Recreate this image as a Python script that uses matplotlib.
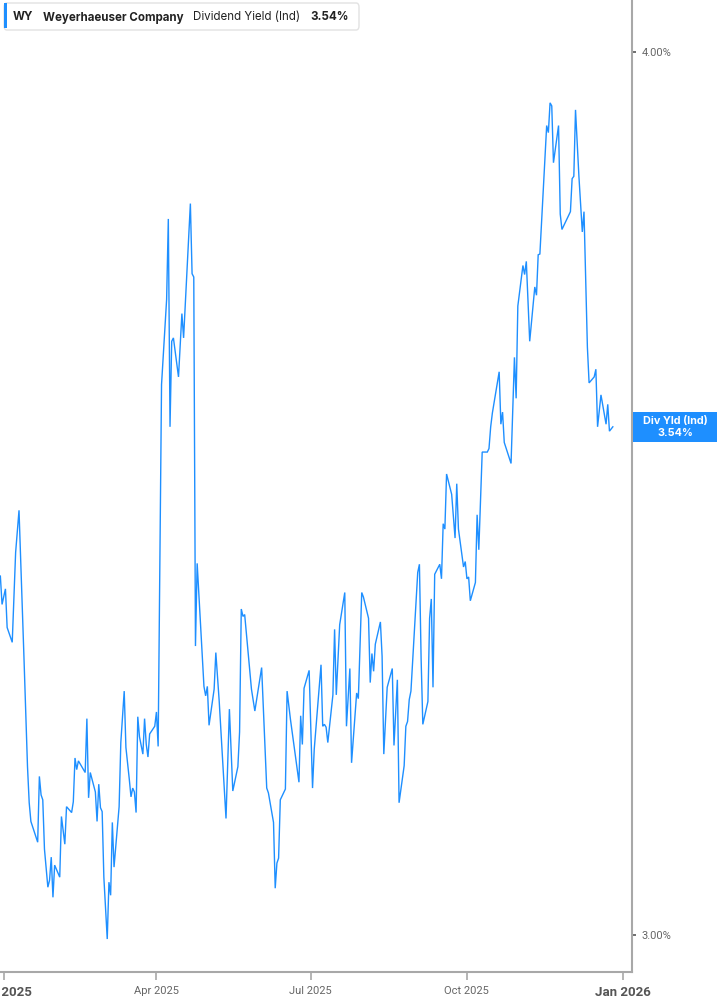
import matplotlib
matplotlib.use('Agg')
import matplotlib.pyplot as plt
import matplotlib.dates as mdates
from matplotlib.patches import FancyBboxPatch, Rectangle
from matplotlib.ticker import FixedLocator, NullLocator, FuncFormatter
from matplotlib.transforms import IdentityTransform
import pandas as pd

# WY dividend yield (indicated), %, one list per quarter
q1_dates = ['2024-12-30', '2024-12-31', '2025-01-02', '2025-01-03', '2025-01-06', '2025-01-08', '2025-01-10',
            '2025-01-13', '2025-01-15', '2025-01-16', '2025-01-17', '2025-01-21', '2025-01-22', '2025-01-23',
            '2025-01-24', '2025-01-25', '2025-01-27', '2025-01-28', '2025-01-29', '2025-01-30', '2025-01-31',
            '2025-02-03', '2025-02-04', '2025-02-06', '2025-02-07', '2025-02-10', '2025-02-11', '2025-02-12',
            '2025-02-13', '2025-02-14', '2025-02-18', '2025-02-19', '2025-02-20', '2025-02-21', '2025-02-24',
            '2025-02-25', '2025-02-26', '2025-02-27', '2025-02-28', '2025-03-01', '2025-03-03', '2025-03-04',
            '2025-03-05', '2025-03-06', '2025-03-07', '2025-03-10', '2025-03-11', '2025-03-13', '2025-03-14',
            '2025-03-16', '2025-03-17', '2025-03-18', '2025-03-19', '2025-03-20', '2025-03-21', '2025-03-22',
            '2025-03-24', '2025-03-25', '2025-03-26', '2025-03-27', '2025-03-28', '2025-03-31']
q1_vals = [3.372, 3.341, 3.358, 3.316, 3.300, 3.398, 3.445, 3.279, 3.169, 3.132,
           3.113, 3.092, 3.159, 3.140, 3.135, 3.085, 3.047, 3.054, 3.077, 3.037,
           3.069, 3.057, 3.118, 3.090, 3.128, 3.122, 3.133, 3.178, 3.166, 3.175,
           3.163, 3.219, 3.137, 3.163, 3.143, 3.113, 3.151, 3.127, 3.123, 3.057,
           2.996, 3.052, 3.039, 3.112, 3.067, 3.128, 3.194, 3.248, 3.189, 3.156,
           3.138, 3.147, 3.143, 3.122, 3.221, 3.200, 3.182, 3.219, 3.192, 3.179,
           3.203, 3.211]

q2_dates = ['2025-04-01', '2025-04-02', '2025-04-04', '2025-04-07', '2025-04-08', '2025-04-09', '2025-04-10',
            '2025-04-11', '2025-04-14', '2025-04-16', '2025-04-17', '2025-04-21', '2025-04-22', '2025-04-23',
            '2025-04-24', '2025-04-25', '2025-04-28', '2025-04-29', '2025-04-30', '2025-05-01', '2025-05-02',
            '2025-05-05', '2025-05-06', '2025-05-08', '2025-05-12', '2025-05-14', '2025-05-16', '2025-05-19',
            '2025-05-20', '2025-05-21', '2025-05-22', '2025-05-23', '2025-05-27', '2025-05-29', '2025-06-02',
            '2025-06-05', '2025-06-06', '2025-06-09', '2025-06-10', '2025-06-11', '2025-06-12', '2025-06-13',
            '2025-06-16', '2025-06-17', '2025-06-19', '2025-06-24', '2025-06-25', '2025-06-26', '2025-06-27',
            '2025-06-30']
q2_vals = [3.226, 3.190, 3.589, 3.690, 3.788, 3.540, 3.640, 3.644,
           3.598, 3.673, 3.644, 3.807, 3.721, 3.717, 3.296, 3.386, 3.285, 3.253,
           3.243, 3.253, 3.212, 3.250, 3.289, 3.237, 3.116, 3.229, 3.144, 3.169,
           3.205, 3.336, 3.328, 3.330, 3.250, 3.227, 3.273, 3.147, 3.142, 3.112,
           3.046, 3.071, 3.076, 3.135, 3.146, 3.248, 3.218, 3.153, 3.222, 3.192,
           3.251, 3.270]

q3_dates = ['2025-07-02', '2025-07-03', '2025-07-07', '2025-07-08', '2025-07-09', '2025-07-10', '2025-07-11',
            '2025-07-14', '2025-07-15', '2025-07-16', '2025-07-18', '2025-07-21', '2025-07-22', '2025-07-24',
            '2025-07-25', '2025-07-28', '2025-07-29', '2025-07-31', '2025-08-01', '2025-08-04', '2025-08-05',
            '2025-08-06', '2025-08-07', '2025-08-08', '2025-08-11', '2025-08-12', '2025-08-13', '2025-08-15',
            '2025-08-18', '2025-08-19', '2025-08-21', '2025-08-22', '2025-08-25', '2025-08-26', '2025-08-27',
            '2025-08-28', '2025-08-29', '2025-09-02', '2025-09-03', '2025-09-04', '2025-09-05', '2025-09-08',
            '2025-09-09', '2025-09-10', '2025-09-11', '2025-09-12', '2025-09-15', '2025-09-16', '2025-09-17',
            '2025-09-18', '2025-09-19', '2025-09-22', '2025-09-24', '2025-09-25', '2025-09-26', '2025-09-29',
            '2025-09-30']
q3_vals = [3.147, 3.187, 3.276, 3.211, 3.213, 3.210, 3.194, 3.244,
           3.314, 3.244, 3.319, 3.354, 3.211, 3.272, 3.173, 3.246, 3.240, 3.354,
           3.349, 3.326, 3.257, 3.288, 3.269, 3.298, 3.322, 3.285, 3.182, 3.252,
           3.272, 3.191, 3.260, 3.132, 3.170, 3.211, 3.216, 3.239, 3.248, 3.376,
           3.385, 3.282, 3.213, 3.237, 3.326, 3.347, 3.252, 3.374, 3.385, 3.369,
           3.430, 3.424, 3.486, 3.463, 3.414, 3.475, 3.424, 3.382, 3.388]

q4_dates = ['2025-10-01', '2025-10-02', '2025-10-03', '2025-10-06', '2025-10-07', '2025-10-08', '2025-10-10',
            '2025-10-13', '2025-10-14', '2025-10-15', '2025-10-16', '2025-10-20', '2025-10-21', '2025-10-22',
            '2025-10-23', '2025-10-27', '2025-10-29', '2025-10-30', '2025-10-31', '2025-11-03', '2025-11-04',
            '2025-11-05', '2025-11-07', '2025-11-10', '2025-11-11', '2025-11-12', '2025-11-13', '2025-11-15',
            '2025-11-17', '2025-11-18', '2025-11-19', '2025-11-20', '2025-11-21', '2025-11-24', '2025-11-25',
            '2025-11-26', '2025-12-01', '2025-12-02', '2025-12-03', '2025-12-04', '2025-12-06', '2025-12-08',
            '2025-12-09', '2025-12-11', '2025-12-12', '2025-12-15', '2025-12-16', '2025-12-17', '2025-12-19',
            '2025-12-22', '2025-12-23', '2025-12-24', '2025-12-26']
q4_vals = [3.369, 3.371, 3.345, 3.365, 3.440, 3.401, 3.511, 3.511, 3.515, 3.540, 3.556,
           3.604, 3.543, 3.557, 3.522, 3.498, 3.621, 3.573, 3.682, 3.731, 3.720,
           3.736, 3.640, 3.705, 3.695, 3.744, 3.745, 3.825, 3.905, 3.896, 3.934,
           3.930, 3.858, 3.905, 3.794, 3.775, 3.797, 3.838, 3.841, 3.925, 3.841,
           3.772, 3.797, 3.633, 3.591, 3.598, 3.607, 3.540, 3.577, 3.543, 3.566,
           3.535, 3.540]

x_tick_dates = ['2025-01-01', '2025-04-01', '2025-07-01', '2025-10-01', '2026-01-01']
x_tick_labels = ['Jan 2025', 'Apr 2025', 'Jul 2025', 'Oct 2025', 'Jan 2026']
y_ticks = [3.0, 4.0]

ticker = 'WY'
company = 'Weyerhaeuser Company'
metric = 'Dividend Yield (Ind)'
short_metric = 'Div Yld (Ind)'

LINE = '#1e8fff'
AXIS = '#a8a8a8'
TXT = '#666666'

W, H = 717, 1005

dates = pd.to_datetime(q1_dates + q2_dates + q3_dates + q4_dates)
yields = q1_vals + q2_vals + q3_vals + q4_vals
last = yields[-1]

fig = plt.figure(figsize=(W / 100, H / 100), dpi=100)
ax = fig.add_axes([0, 33 / H, 632 / W, 972 / H])

ax.plot(dates, yields, color=LINE, lw=1.0, solid_joinstyle='miter')

ax.set_yscale('log')
ax.set_ylim(2.964, 4.068)
ax.set_xlim(pd.Timestamp('2024-12-29 19:00'), pd.Timestamp('2026-01-06 07:00'))

ax.yaxis.tick_right()
ax.yaxis.set_major_locator(FixedLocator(y_ticks))
ax.yaxis.set_minor_locator(NullLocator())
ax.yaxis.set_major_formatter(FuncFormatter(lambda v, p: '%.2f%%' % v))
ax.tick_params(axis='y', direction='out', length=3, width=1.2, color='#555555',
               labelsize=8, labelcolor=TXT, pad=4)
for lab in ax.get_yticklabels():
    lab.set_family('Roboto')

ax.set_xticks(pd.to_datetime(x_tick_dates))
ax.set_xticklabels(x_tick_labels)
ax.xaxis.set_minor_locator(NullLocator())
ax.tick_params(axis='x', direction='out', length=6, width=1.2, color=AXIS, pad=4)
for i, lab in enumerate(ax.get_xticklabels()):
    lab.set_family('Roboto')
    if i in (0, len(x_tick_labels) - 1):
        lab.set_fontsize(9.5)
        lab.set_fontweight('bold')
        lab.set_color('#555555')
    else:
        lab.set_fontsize(8)
        lab.set_color(TXT)

for side in ('left', 'top'):
    ax.spines[side].set_visible(False)
for side in ('right', 'bottom'):
    ax.spines[side].set_color(AXIS)
    ax.spines[side].set_linewidth(1.5)

# legend box in the top left corner
def fx(x):
    return x / W


def fy(y):
    return 1 - y / H


box = FancyBboxPatch((fx(4), fy(30)), fx(355), 27 / H, boxstyle='round,pad=0,rounding_size=0.004',
                     transform=fig.transFigure, fc='white', ec='#e2e2e2', lw=1.0)
fig.add_artist(box)
fig.add_artist(Rectangle((fx(4), fy(28)), fx(3), 25 / H, transform=fig.transFigure,
                         fc=LINE, ec='none'))

base = fy(20.5)
fs = 8.3
fig.text(fx(13), base, ticker, fontsize=fs, fontweight='bold', color='#222222',
         family='Inter', va='baseline')
fig.text(fx(43), base, company, fontsize=fs, fontweight='bold', color='#222222',
         family='Inter', va='baseline')
fig.text(fx(193), base, metric, fontsize=fs, color='#222222', family='Inter', va='baseline')
fig.text(fx(310), base, '%.2f%%' % last, fontsize=fs, fontweight='bold', color='#222222',
         family='Inter', va='baseline')

# value tag on the right axis at the last point
y_px = ax.transData.transform((mdates.date2num(dates[-1]), last))[1]
fig.add_artist(Rectangle((633, y_px - 15), W - 633, 30, transform=IdentityTransform(),
                         fc=LINE, ec='none'))
fig.text(675, y_px + 5.5, short_metric, transform=IdentityTransform(), ha='center', va='center',
         fontsize=7.8, fontweight='bold', color='white', family='Inter')
fig.text(675, y_px - 6, '%.2f%%' % last, transform=IdentityTransform(), ha='center', va='center',
         fontsize=7.8, fontweight='bold', color='white', family='Inter')

fig.savefig('out.png', dpi=100)
